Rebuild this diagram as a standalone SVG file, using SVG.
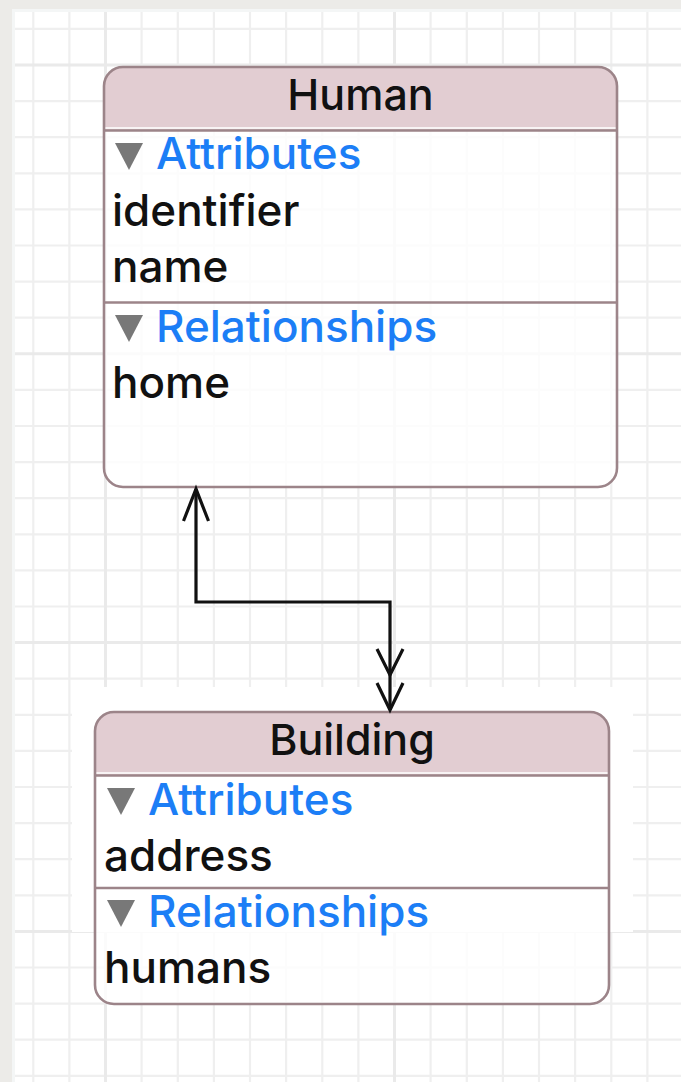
<svg xmlns="http://www.w3.org/2000/svg" width="681" height="1082" viewBox="0 0 681 1082">
  <style>
    .grid { stroke: #efefef; stroke-width: 2.2; fill: none; }
    .gridM { stroke: #eaeaea; stroke-width: 3; fill: none; }
    .body { fill: #ffffff; fill-opacity: 0.78; }
    .head { fill: #e0c9ce; fill-opacity: 0.92; }
    .frame { fill: none; stroke: #9c8489; stroke-width: 2.6; }
    .sep { stroke: #9c8489; stroke-width: 2.6; }
    .hl { stroke: #ffffff; stroke-width: 1.4; }
    .title { font-family: Inter, "Liberation Sans", sans-serif; font-size: 43px; font-weight: 500; fill: #111111; text-anchor: middle; }
    .sec { font-family: Inter, "Liberation Sans", sans-serif; font-size: 44px; font-weight: 500; fill: #1c7ef6; }
    .item { font-family: Inter, "Liberation Sans", sans-serif; font-size: 44px; font-weight: 500; fill: #111111; }
    .tri { fill: #787878; }
    .conn { fill: none; stroke: #111111; stroke-width: 3.2; stroke-linejoin: miter; }
  </style>
  <defs>
    <marker id="one" markerUnits="userSpaceOnUse" orient="auto-start-reverse" refX="0" refY="0" markerWidth="1" markerHeight="1" overflow="visible">
      <path d="M-32,-12.5 L0,0 L-32,12.5" fill="none" stroke="#111111" stroke-width="3.2"/>
    </marker>
    <marker id="many" markerUnits="userSpaceOnUse" orient="auto" refX="0" refY="0" markerWidth="1" markerHeight="1" overflow="visible">
      <path d="M-27,-13 L0,0 L-27,13 M-61,-13 L-35,0 L-61,13" fill="none" stroke="#111111" stroke-width="3.2"/>
    </marker>
  </defs>

  <g id="background">
    <rect x="0" y="0" width="681" height="1082" fill="#ecebe8"/>
    <rect x="12" y="9" width="669" height="1073" fill="#f4f6f6"/>
    <rect x="15" y="12" width="666" height="1070" fill="#ffffff"/>
    <path class="grid" d="M33.3,12V1082 M69.4,12V1082 M141.6,12V1082 M177.8,12V1082 M213.9,12V1082 M250,12V1082 M286.1,12V1082 M322.3,12V1082 M358.4,12V1082 M430.6,12V1082 M466.8,12V1082 M502.9,12V1082 M539,12V1082 M575.1,12V1082 M611.3,12V1082 M647.4,12V1082
      M15,28.9H681 M15,101.1H681 M15,137.2H681 M15,173.3H681 M15,209.4H681 M15,245.5H681 M15,281.6H681 M15,317.7H681 M15,389.9H681 M15,426H681 M15,462.1H681 M15,498.2H681 M15,534.3H681 M15,570.4H681 M15,606.5H681 M15,678.7H681 M15,714.8H681 M15,750.9H681 M15,787H681 M15,823.1H681 M15,859.2H681 M15,895.3H681 M15,967.5H681 M15,1003.6H681 M15,1039.7H681 M15,1075.8H681"/>
    <path class="gridM" d="M105.5,12V1082 M394.5,12V1082 M15,65H681 M15,353.8H681 M15,642.6H681 M15,931.4H681"/>
    <rect x="72" y="687" width="561" height="245" fill="#ffffff"/>
  </g>

  <g id="node-human">
    <rect class="body" x="104" y="67" width="513" height="420" rx="19"/>
    <path class="head" d="M104,130 V86 A19,19 0 0 1 123,67 H598 A19,19 0 0 1 617,86 V130 Z"/>
    <line class="hl" x1="105" y1="128" x2="616" y2="128"/>
    <line class="sep" x1="104" y1="130.5" x2="617" y2="130.5"/>
    <line class="sep" x1="104" y1="302.5" x2="617" y2="302.5"/>
    <rect class="frame" x="104" y="67" width="513" height="420" rx="19"/>
    <text class="title" x="360.5" y="110">Human</text>
    <path class="tri" d="M115,143 H143 L129,170 Z"/>
    <text class="sec" x="156" y="169">Attributes</text>
    <text class="item" x="112" y="226">identifier</text>
    <text class="item" x="112" y="282">name</text>
    <path class="tri" d="M115,315 H143 L129,342 Z"/>
    <text class="sec" x="156" y="342">Relationships</text>
    <text class="item" x="112" y="398">home</text>
  </g>

  <g id="node-building">
    <rect class="body" x="95" y="712" width="514" height="292" rx="19"/>
    <path class="head" d="M95,775 V731 A19,19 0 0 1 114,712 H590 A19,19 0 0 1 609,731 V775 Z"/>
    <line class="hl" x1="96" y1="773" x2="608" y2="773"/>
    <line class="sep" x1="95" y1="775.5" x2="609" y2="775.5"/>
    <line class="sep" x1="95" y1="888" x2="609" y2="888"/>
    <rect class="frame" x="95" y="712" width="514" height="292" rx="19"/>
    <text class="title" x="352" y="755">Building</text>
    <path class="tri" d="M107,788 H135 L121,815 Z"/>
    <text class="sec" x="148" y="815">Attributes</text>
    <text class="item" x="104" y="871">address</text>
    <path class="tri" d="M107,900 H135 L121,927 Z"/>
    <text class="sec" x="148" y="927">Relationships</text>
    <text class="item" x="104" y="983">humans</text>
  </g>

  <g id="connectors">
    <path class="conn" d="M196,489 V602 H390 V710" marker-start="url(#one)" marker-end="url(#many)"/>
  </g>
</svg>
